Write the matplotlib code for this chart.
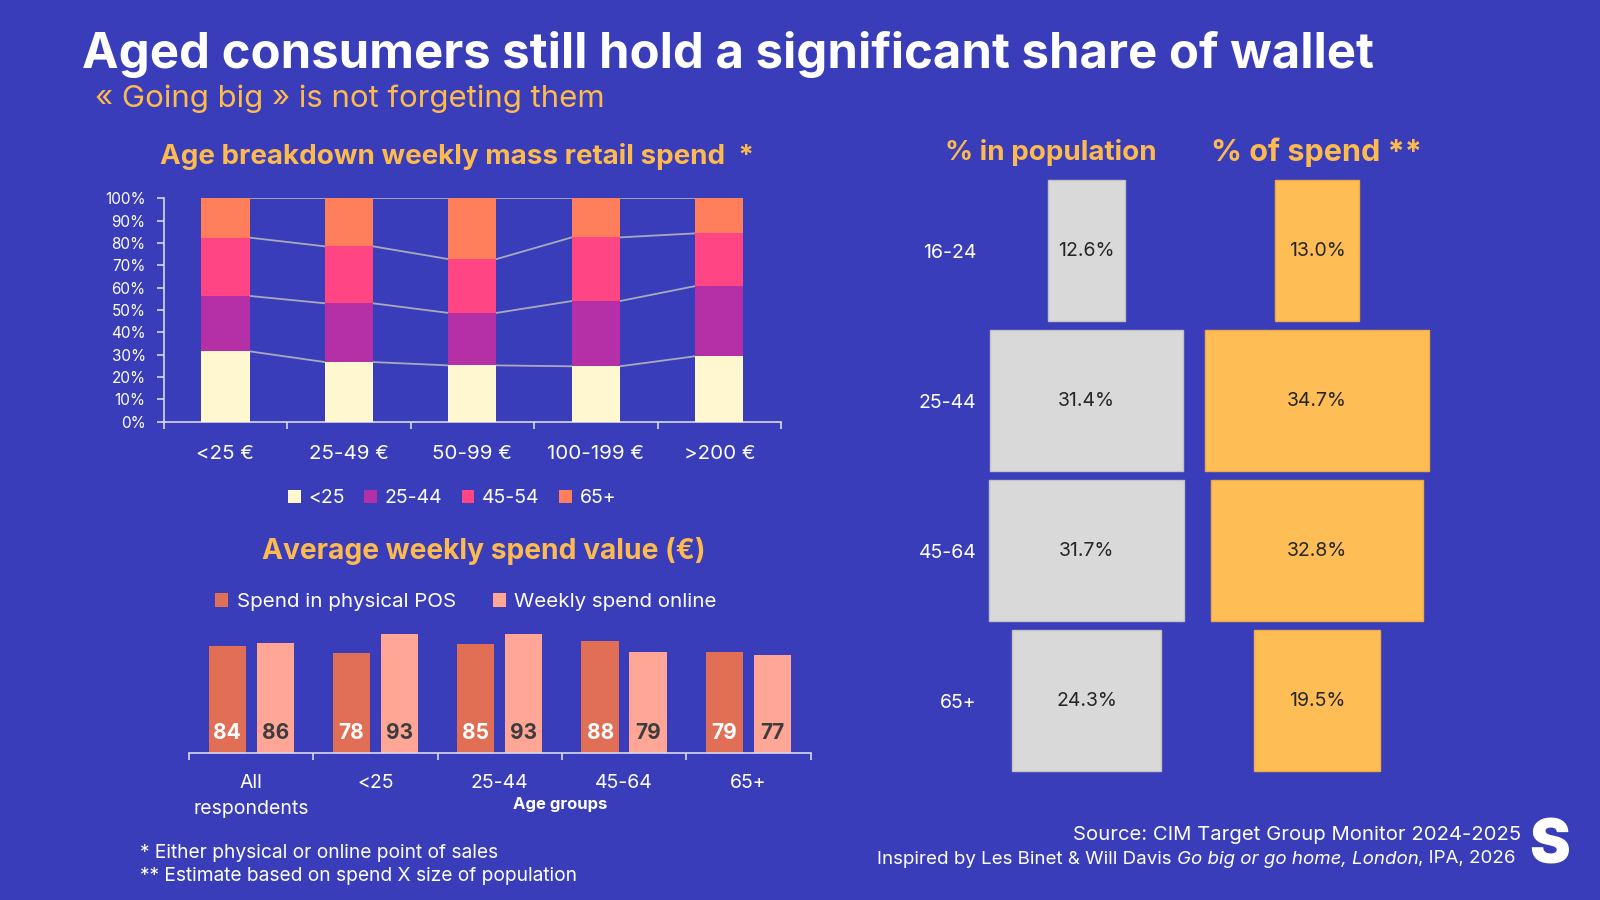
import numpy as np
import matplotlib.pyplot as plt
from matplotlib.patches import Patch
from matplotlib.offsetbox import TextArea, HPacker, AnnotationBbox

plt.rcParams['font.family'] = ['Inter', 'DejaVu Sans']

# --- data ---
spend_bands = ['<25 €', '25-49 €', '50-99 €', '100-199 €', '>200 €']
age_groups = ['<25', '25-44', '45-54', '65+']
share_u25 = [31.5, 26.7, 25.2, 24.8, 29.3]
share_25_44 = [24.8, 26.3, 23.5, 29.2, 31.4]
share_45_54 = [26.1, 25.5, 24.1, 28.5, 23.6]
share_65 = [17.6, 21.5, 27.2, 17.5, 15.7]

resp_groups = ['All\nrespondents', '<25', '25-44', '45-64', '65+']
spend_pos = [84, 78, 85, 88, 79]
spend_online = [86, 93, 93, 79, 77]

pop_groups = ['16-24', '25-44', '45-64', '65+']
pct_population = [12.6, 31.4, 31.7, 24.3]
pct_spend = [13.0, 34.7, 32.8, 19.5]

# --- colours ---
BG = '#3a3db9'
ORANGE = '#fdba4f'
AXC = '#d8d8ec'
LINE = '#a9a9bb'
STACK_COLS = ['#fff7cf', '#b52fa6', '#ff4584', '#ff7e5c']
POS = '#e06f55'
ONL = '#ffa696'
GRAY = '#d9d9d9'
GOLD = '#ffbd55'
DARK = '#262626'

W, H = 1600, 900


def box(x0, y0, x1, y1):
    # pixel box (top-left origin) -> figure fraction rect
    return [x0 / W, 1 - y1 / H, (x1 - x0) / W, (y1 - y0) / H]


fig = plt.figure(figsize=(16, 9), dpi=100)
fig.patch.set_facecolor(BG)

# titles
fig.text(82 / W, 1 - 68 / H, 'Aged consumers still hold a significant share of wallet',
         fontsize=35.3, fontweight='bold', color='white', va='baseline')
fig.text(95 / W, 1 - 107 / H, '« Going big » is not forgeting them',
         fontsize=22.4, color=ORANGE, va='baseline')

# --- stacked age breakdown ---
fig.text(457 / W, 1 - 157 / H, 'Age breakdown weekly mass retail spend  *',
         fontsize=20, fontweight='bold', color=ORANGE, ha='center', va='center')
ax1 = fig.add_axes(box(163.7, 198.3, 781, 421.7))
ax1.set_facecolor('none')
x = np.arange(len(spend_bands))
bw = 0.39
bottom = np.zeros(len(spend_bands))
cums = []
for vals, col, lab in zip([share_u25, share_25_44, share_45_54, share_65], STACK_COLS, age_groups):
    ax1.bar(x, vals, bw, bottom=bottom, color=col, label=lab, zorder=3)
    bottom = bottom + np.array(vals)
    cums.append(bottom.copy())
for cum in cums:
    for i in range(len(x) - 1):
        ax1.plot([i + bw / 2, i + 1 - bw / 2], [cum[i], cum[i + 1]], color=LINE, lw=1.3, zorder=2)
ax1.set_xlim(-0.5, 4.5)
ax1.set_ylim(0, 100)
ax1.set_yticks(range(0, 101, 10))
ax1.set_yticklabels([f'{v}%' for v in range(0, 101, 10)])
ax1.set_xticks(x)
ax1.set_xticklabels(spend_bands)
ax1.set_xticks(np.arange(-0.5, 5, 1), minor=True)
ax1.tick_params(axis='x', which='major', length=0, pad=16.5, labelsize=14.8, labelcolor='white')
ax1.tick_params(axis='x', which='minor', length=5, color=AXC, width=1.2)
ax1.tick_params(axis='y', length=5, color=AXC, width=1.2, labelsize=11, labelcolor='white', pad=8)
for s in ['top', 'right']:
    ax1.spines[s].set_visible(False)
for s in ['left', 'bottom']:
    ax1.spines[s].set_color(AXC)
    ax1.spines[s].set_linewidth(1.2)
ax1.legend(loc='center', bbox_to_anchor=(452 / W, 1 - 498 / H), bbox_transform=fig.transFigure,
           ncol=4, frameon=False, fontsize=14, labelcolor='white', handlelength=0.65,
           handleheight=0.65, handletextpad=0.4, columnspacing=1.0)

# --- average weekly spend ---
fig.text(484 / W, 1 - 551 / H, 'Average weekly spend value (€)',
         fontsize=20.3, fontweight='bold', color=ORANGE, ha='center', va='center')
ax2 = fig.add_axes(box(189, 625.4, 810.6, 752.7))
ax2.set_facecolor('none')
bw2, off = 0.30, 0.193
ax2.bar(x - off, spend_pos, bw2, color=POS, label='Spend in physical POS')
ax2.bar(x + off, spend_online, bw2, color=ONL, label='Weekly spend online')
for i in range(len(x)):
    ax2.text(i - off, 15.5, str(spend_pos[i]), ha='center', va='center', color='white',
             fontsize=15, fontweight='bold')
    ax2.text(i + off, 15.5, str(spend_online[i]), ha='center', va='center', color='#3d3d3d',
             fontsize=15, fontweight='bold')
ax2.set_xlim(-0.5, 4.5)
ax2.set_ylim(0, 100)
ax2.set_yticks([])
ax2.set_xticks(x)
ax2.set_xticklabels(resp_groups, va='top', linespacing=1.55)
ax2.set_xticks(np.arange(-0.5, 5, 1), minor=True)
ax2.tick_params(axis='x', which='major', length=0, pad=15.5, labelsize=14, labelcolor='white')
ax2.tick_params(axis='x', which='minor', length=5, color=AXC, width=1.2)
for s in ['top', 'right', 'left']:
    ax2.spines[s].set_visible(False)
ax2.spines['bottom'].set_color(AXC)
ax2.spines['bottom'].set_linewidth(1.2)
ax2.legend(loc='center', bbox_to_anchor=(466 / W, 1 - 602 / H), bbox_transform=fig.transFigure,
           ncol=2, frameon=False, fontsize=14.8, labelcolor='white', handlelength=0.65,
           handleheight=0.65, handletextpad=0.4, columnspacing=1.8)
fig.text(560 / W, 1 - 804 / H, 'Age groups', fontsize=12, fontweight='bold', color='white',
         ha='center', va='center')

# --- population vs spend blocks ---
rows = np.arange(len(pop_groups))
ax3 = fig.add_axes(box(980, 175.8, 1193, 775.8))
ax4 = fig.add_axes(box(1197, 175.8, 1437, 775.8))
for ax, vals, col, edge, half in [(ax3, pct_population, GRAY, '#c2c2c2', 17.26),
                                  (ax4, pct_spend, GOLD, '#f0aa45', 18.55)]:
    ax.set_facecolor('none')
    v = np.array(vals)
    ax.barh(rows, v, left=-v / 2, height=0.94, color=col, edgecolor=edge, linewidth=1)
    for r, val in zip(rows, vals):
        ax.text(0, r, f'{val:.1f}%', ha='center', va='center', color=DARK, fontsize=14)
    ax.set_xlim(-half, half)
    ax.set_ylim(3.5, -0.5)
    ax.set_xticks([])
    for s in ax.spines.values():
        s.set_visible(False)
ax3.set_yticks(rows)
ax3.set_yticklabels(pop_groups)
ax3.tick_params(axis='y', length=0, pad=2.5, labelsize=14, labelcolor='white')
ax4.set_yticks([])
fig.text(1051 / W, 1 - 153 / H, '% in population', fontsize=20, fontweight='bold',
         color=ORANGE, ha='center', va='center')
fig.text(1316 / W, 1 - 152 / H, '% of spend **', fontsize=22, fontweight='bold',
         color=ORANGE, ha='center', va='center')

# --- footnotes & source ---
fig.text(140 / W, 1 - 853 / H, '* Either physical or online point of sales',
         fontsize=13.8, color='white', va='center')
fig.text(140 / W, 1 - 876 / H, '** Estimate based on spend X size of population',
         fontsize=13.8, color='white', va='center')
fig.text(1521 / W, 1 - 835 / H, 'Source: CIM Target Group Monitor 2024-2025',
         fontsize=14.6, color='white', ha='right', va='center')
tp = dict(color='white', fontsize=13.5)
parts = [TextArea('Inspired by Les Binet & Will Davis ', textprops=tp),
         TextArea('Go big or go home, London', textprops=dict(tp, style='italic')),
         TextArea(', IPA, 2026', textprops=tp)]
src = HPacker(children=parts, pad=0, sep=0, align='baseline')
fig.add_artist(AnnotationBbox(src, (1516 / W, 1 - 859 / H), xycoords='figure fraction',
                              box_alignment=(1, 0.5), frameon=False))
fig.text(1550 / W, 1 - 848 / H, 'S', fontsize=44, fontweight='black', color='white',
         ha='center', va='center')

fig.savefig('out.png', dpi=100, facecolor=BG)
